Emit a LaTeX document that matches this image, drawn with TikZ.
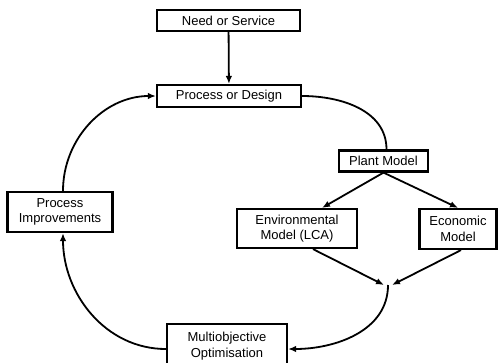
\documentclass[tikz,border=0pt]{standalone}
\usepackage{fontspec}
\setmainfont{Liberation Sans}
\usetikzlibrary{arrows.meta}
\begin{document}
\begin{tikzpicture}[x=1pt,y=-1pt,
  box/.style={draw,line width=2.2pt,align=center,inner sep=0pt,font=\fontsize{13}{15.5}\selectfont},
  conn/.style={line width=1.8pt,-{Latex[length=8pt,width=6.5pt]}},
  plain/.style={line width=1.8pt}]
\useasboundingbox (0,0) rectangle (498,362);
\node[box,minimum width=143pt,minimum height=21pt] (need) at (228.5,20.5) {Need or Service};
\node[box,minimum width=144pt,minimum height=22pt] (pd) at (229,96) {Process or Design};
\node[box,minimum width=89pt,minimum height=21pt] (pm) at (383.5,161) {Plant Model};
\node[box,minimum width=120pt,minimum height=39pt] (env) at (297,228.5) {Environmental\\Model (LCA)};
\node[box,minimum width=77pt,minimum height=40pt] (eco) at (458,229) {Economic\\Model};
\node[box,minimum width=105pt,minimum height=40pt] (pi) at (60,212) {Process\\Improvements};
\node[box,minimum width=120pt,minimum height=44pt] (mo) at (227,346) {Multiobjective\\Optimisation};
\coordinate (mg) at (388,285);
\draw[conn] (need) -- (pd);
\draw[plain] (pd.east) to[out=0,in=90] ([xshift=3pt]pm.north);
\draw[conn] (pm.south) -- ([xshift=25pt]env.north);
\draw[conn] (pm.south) -- (eco.north);
\draw[conn] ([xshift=16pt]env.south) -- ([xshift=-4pt]mg);
\draw[conn] ([xshift=3pt]eco.south) -- ([xshift=4pt]mg);
\draw[conn] (mg) to[out=-90,in=0] ([yshift=-3pt]mo.east);
\draw[conn] ([yshift=-3pt]mo.west) to[out=180,in=-90] ([xshift=3pt]pi.south);
\draw[conn] ([xshift=3pt]pi.north) to[out=90,in=180] (pd.west);
\end{tikzpicture}
\end{document}
